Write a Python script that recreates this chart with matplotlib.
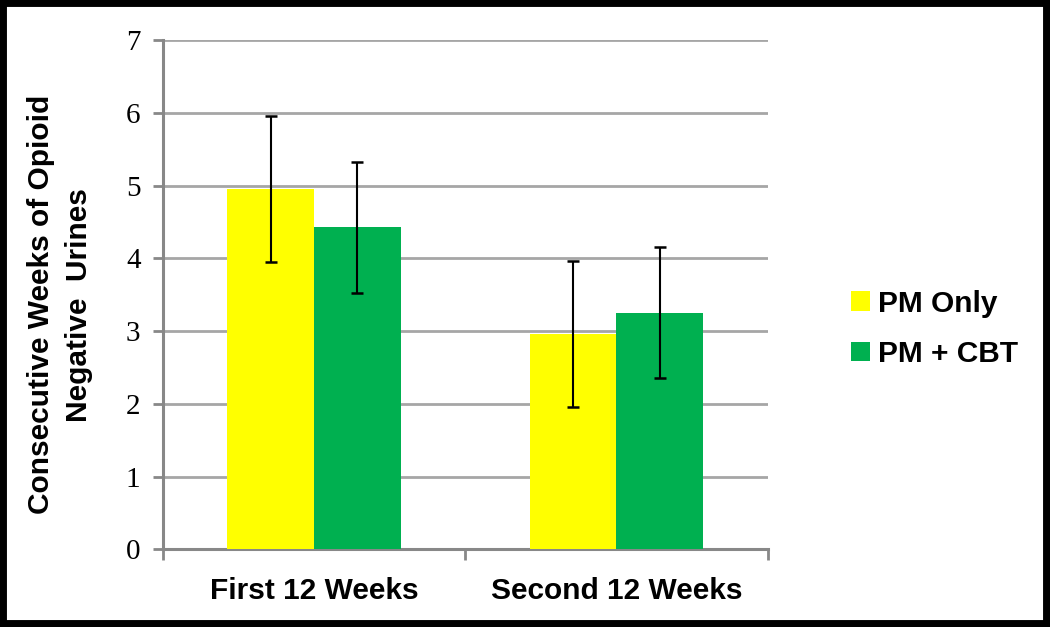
import matplotlib
matplotlib.use("Agg")
import matplotlib.pyplot as plt
import numpy as np
from matplotlib.patches import Rectangle

categories = ["First 12 Weeks", "Second 12 Weeks"]
series_names = ["PM Only", "PM + CBT"]
pm_only = [4.95, 2.96]
pm_only_err = [1.0, 1.0]
pm_cbt = [4.43, 3.25]
pm_cbt_err = [0.9, 0.9]
colors = ["#FFFF00", "#00B050"]

fig = plt.figure(figsize=(10.5, 6.27), dpi=100)
ax = fig.add_axes([0.155, 0.124, 0.576, 0.812])

x = np.arange(len(categories))
w = 0.287
err_kw = dict(ecolor="black", elinewidth=1.5, capsize=4.5, capthick=1.8)
ax.bar(x - w/2, pm_only, w, color=colors[0], yerr=pm_only_err, error_kw=err_kw, label=series_names[0], zorder=3)
ax.bar(x + w/2, pm_cbt, w, color=colors[1], yerr=pm_cbt_err, error_kw=err_kw, label=series_names[1], zorder=3)

ax.set_xlim(-0.5, 1.5)
ax.set_ylim(0, 7)
ax.set_yticks(range(0, 8))
ax.set_yticklabels([str(i) for i in range(0, 8)], family="Liberation Serif", fontsize=21)
ax.set_xticks([-0.5, 0.5, 1.5], minor=False)
ax.set_xticklabels([])
ax.set_xticks(x, minor=True)
ax.set_xticklabels(categories, minor=True, family="Liberation Sans", fontsize=21.5, fontweight="bold")
ax.tick_params(axis="x", which="minor", length=0, pad=20)
ax.tick_params(axis="x", which="major", direction="out", length=8, width=2, color="#888888")
ax.tick_params(axis="y", direction="out", length=7, width=2, color="#888888", pad=9)

ax.yaxis.grid(True, color="#A6A6A6", linewidth=2)
ax.set_axisbelow(True)
for s in ["top", "right"]:
    ax.spines[s].set_visible(False)
for s in ["left", "bottom"]:
    ax.spines[s].set_color("#888888")
    ax.spines[s].set_linewidth(2.2)

ax.set_ylabel("Consecutive Weeks of Opioid\nNegative  Urines", family="Liberation Sans",
              fontsize=21.5, fontweight="bold", linespacing=1.45)
ax.yaxis.set_label_coords(-0.115, 0.48)

leg = ax.legend(loc="center left", bbox_to_anchor=(1.093, 0.433), frameon=False,
                prop=dict(family="Liberation Sans", size=21.5, weight="bold"),
                handlelength=0.65, handleheight=0.65, handletextpad=0.25, labelspacing=0.75)

fig.patches.append(Rectangle((0, 0), 1, 1, transform=fig.transFigure, fill=False,
                             edgecolor="black", linewidth=10, zorder=10))

fig.savefig("out.png", dpi=100)
